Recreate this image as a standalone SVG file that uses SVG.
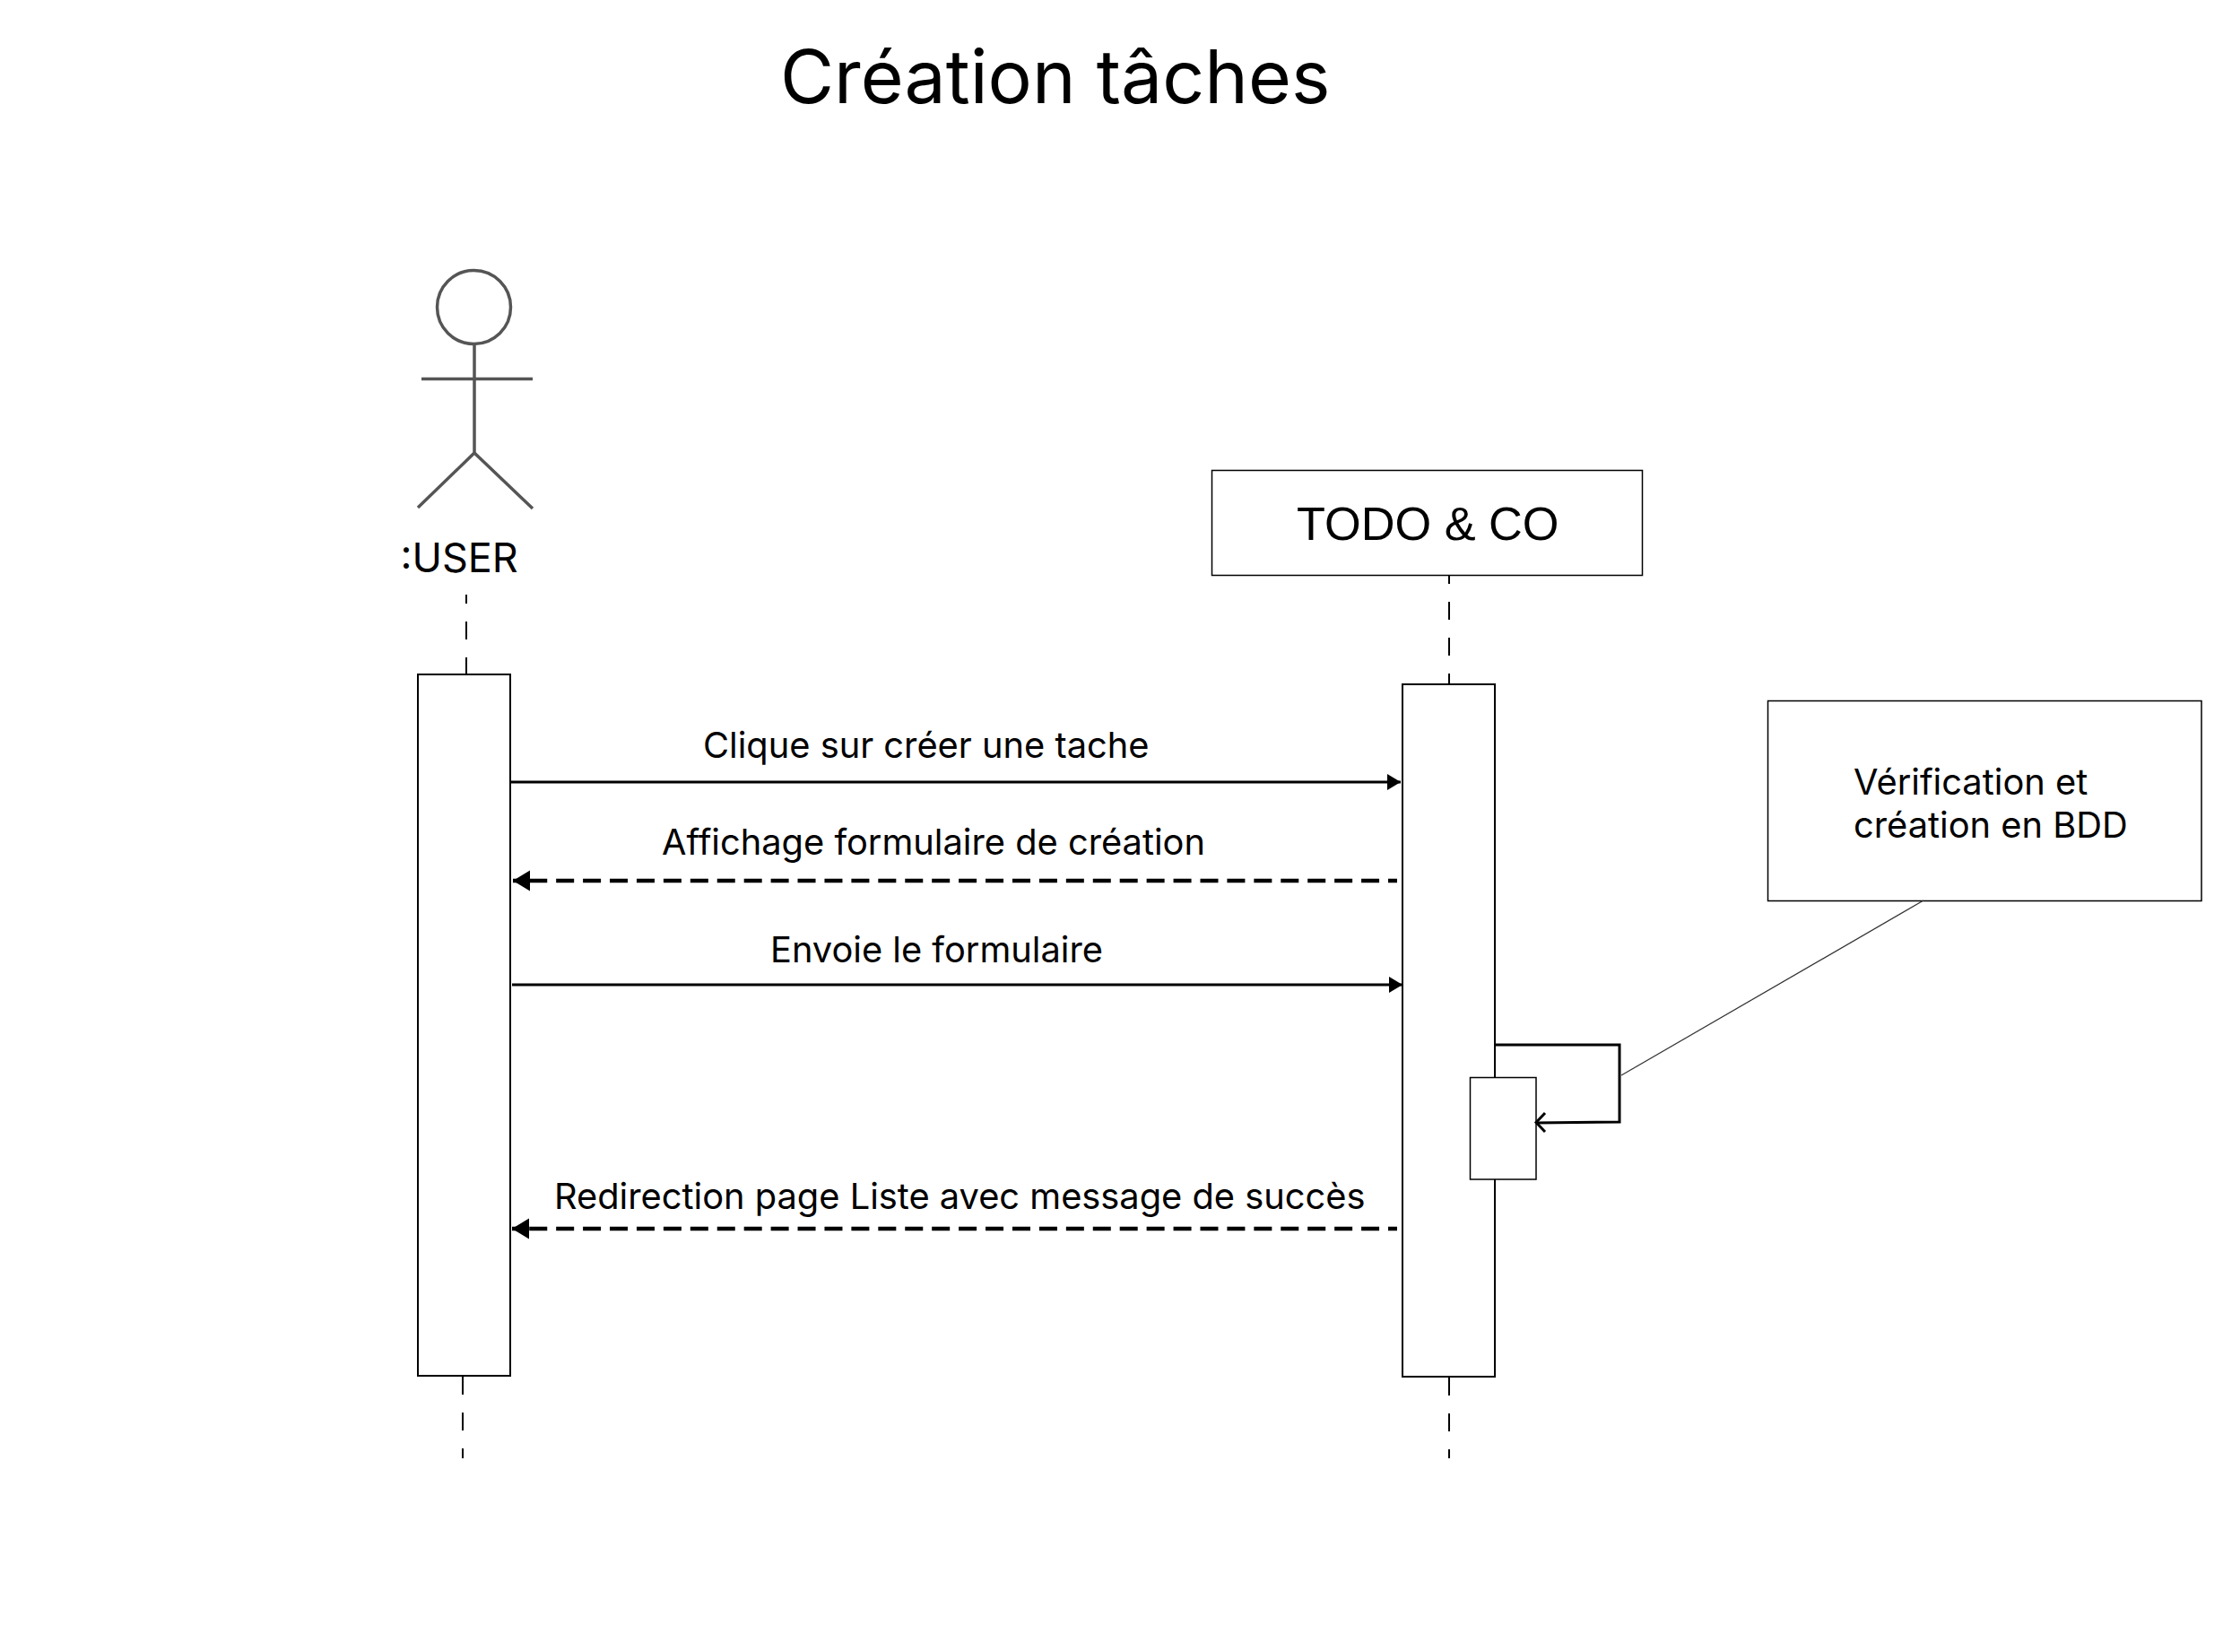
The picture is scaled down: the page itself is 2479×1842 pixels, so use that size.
<svg xmlns="http://www.w3.org/2000/svg" width="2479" height="1842" viewBox="0 0 2479 1842">
<style>
text{font-family:Inter,"Liberation Sans",sans-serif;fill:#000}
.lbl{font-size:39.8px}
.box{fill:#fff;stroke:#000;stroke-width:2}
.thin{fill:#fff;stroke:#000;stroke-width:1.5}
.life{fill:none;stroke:#000;stroke-width:2;stroke-dasharray:20 20}
.msg{fill:none;stroke:#000;stroke-width:3}
.ret{fill:none;stroke:#000;stroke-width:4.5;stroke-dasharray:20 9.93;stroke-dashoffset:10}
.act{fill:none;stroke:#555;stroke-width:3.5}
</style>
<defs>
<marker id="small" markerUnits="userSpaceOnUse" markerWidth="15" markerHeight="18" refX="15" refY="9" orient="auto"><path d="M0 0L15 9L0 18Z" fill="#000"/></marker>
<marker id="big" markerUnits="userSpaceOnUse" markerWidth="20" markerHeight="24" refX="20" refY="12" orient="auto"><path d="M1 0.5L20 12L1 23.5Z" fill="#000"/></marker>
</defs>
<rect width="2479" height="1842" fill="#fff"/>
<text id="title" x="870" y="115" font-size="82.3">Création tâches</text>
<g id="connectors">
<path class="life" d="M520 663V752" stroke-dashoffset="10"/>
<path class="life" d="M516 1535V1626"/>
<path class="life" d="M1616 641V763" stroke-dashoffset="10"/>
<path class="life" d="M1616 1536V1626"/>
</g>
<g id="user">
<g>
<circle class="act" cx="528.5" cy="342.5" r="41"/>
<path class="act" d="M529 384V505M470 422.5H594M466 566L529 505L594 567"/>
</g>
<text x="446.5" y="638" font-size="45">:USER</text>
</g>
<g id="user-activation"><rect class="box" x="466" y="752" width="103" height="782"/></g>
<g id="todo"><rect class="thin" x="1351.5" y="524.5" width="480" height="117"/>
<text x="1446" y="602" font-size="52.3" style="font-family:'Liberation Sans',Arial,sans-serif">TODO &amp; CO</text></g>
<g id="todo-activation"><rect class="box" x="1564" y="763" width="103" height="772"/></g>
<g id="self-activation"><rect class="thin" x="1639.5" y="1201.5" width="73.5" height="113.5"/></g>
<g id="note"><rect class="thin" x="1971.5" y="781.5" width="483.5" height="223"/>
<text class="lbl" x="2067" y="886">Vérification et</text>
<text class="lbl" x="2067" y="934">création en BDD</text></g>
<g id="messages">
<path class="msg" d="M570 872H1562" marker-end="url(#small)"/>
<path class="ret" d="M1558 982H572" marker-end="url(#big)"/>
<path class="msg" d="M571 1098H1564" marker-end="url(#small)"/>
<path class="ret" d="M1558 1370H571" marker-end="url(#big)"/>
<path class="msg" d="M1667 1165H1806V1251L1713 1252" stroke-width="4"/>
<path d="M1723 1241L1713 1251.5L1723 1262" fill="none" stroke="#000" stroke-width="3"/>
<path d="M1808 1199L2145 1004" fill="none" stroke="#333" stroke-width="1.3"/>
</g>
<g id="labels">
<text class="lbl" x="784" y="845">Clique sur créer une tache</text>
<text class="lbl" x="738" y="952.5">Affichage formulaire de création</text>
<text class="lbl" x="859" y="1073">Envoie le formulaire</text>
<text class="lbl" x="618" y="1348">Redirection page Liste avec message de succès</text>
</g>
</svg>
